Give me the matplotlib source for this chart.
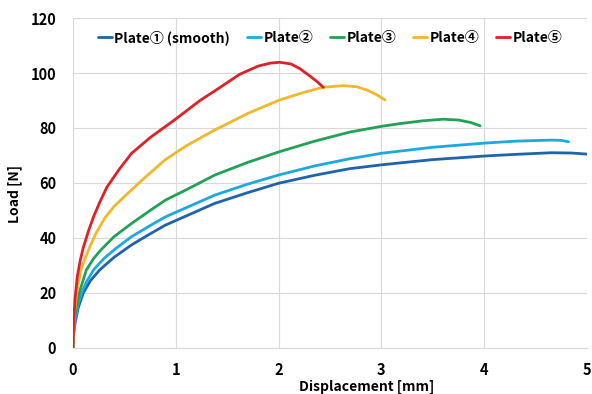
import matplotlib.pyplot as plt

plt.rcParams['font.family'] = ['Noto Sans CJK JP', 'DejaVu Sans']
plt.rcParams['font.weight'] = 'bold'

# load-displacement curves for each plate
disp1 = [0, 0.005, 0.02, 0.05, 0.1, 0.17, 0.26, 0.4, 0.57, 0.75, 0.9, 1.1, 1.38, 1.7, 2.0,
         2.35, 2.69, 3.0, 3.18, 3.5, 4.0, 4.3, 4.65, 4.85, 5.0]
load1 = [0, 5, 9, 14.5, 20, 24.5, 28.4, 33, 37.5, 41.5, 44.7, 48, 52.6, 56.5, 59.9,
         62.8, 65.2, 66.6, 67.3, 68.5, 69.8, 70.4, 71.0, 70.9, 70.5]

disp2 = [0, 0.005, 0.02, 0.05, 0.085, 0.13, 0.2, 0.3, 0.41, 0.57, 0.75, 0.9, 1.1, 1.38, 1.7, 2.0,
         2.35, 2.69, 3.0, 3.5, 4.0, 4.3, 4.65, 4.75, 4.82]
load2 = [0, 5, 10, 16, 20, 24, 28.4, 32.5, 36, 40.5, 44.5, 47.7, 51, 55.6, 59.6, 62.9,
         66.2, 68.8, 70.8, 73, 74.5, 75.2, 75.6, 75.5, 75.0]

disp3 = [0, 0.005, 0.02, 0.06, 0.13, 0.2, 0.27, 0.4, 0.57, 0.75, 0.9, 1.1, 1.38, 1.7, 2.01,
         2.35, 2.69, 3.0, 3.18, 3.4, 3.6, 3.75, 3.87, 3.96]
load3 = [0, 6, 12, 20, 28.4, 32.5, 35.6, 40.5, 45.3, 50, 53.8, 57.5, 62.9, 67.5, 71.4,
         75.2, 78.5, 80.6, 81.6, 82.6, 83.2, 82.9, 82, 80.8]

disp4 = [0, 0.005, 0.015, 0.036, 0.075, 0.15, 0.22, 0.31, 0.4, 0.52, 0.7, 0.895, 1.1, 1.38, 1.7,
         2.01, 2.25, 2.43, 2.63, 2.76, 2.86, 2.95, 3.035]
load4 = [0, 7, 13, 20, 28.4, 35.6, 41.5, 47.3, 51.5, 55.8, 62, 68.4, 73.5, 79.3, 85.3,
         90.2, 93, 94.8, 95.4, 95, 93.8, 92.2, 90.2]

disp5 = [0, 0.005, 0.02, 0.042, 0.07, 0.1, 0.15, 0.2, 0.26, 0.33, 0.45, 0.57, 0.75, 0.99, 1.235,
         1.4, 1.62, 1.8, 1.92, 2.01, 2.12, 2.21, 2.3, 2.37, 2.435]
load5 = [0, 8, 18, 26, 31.8, 36.5, 42.5, 47.7, 53, 58.5, 65, 70.8, 76.5, 83, 90,
         94, 99.5, 102.5, 103.6, 103.9, 103.3, 101.5, 99, 97, 94.8]

labels = ['Plate① (smooth)', 'Plate②', 'Plate③', 'Plate④', 'Plate⑤']
colors = ['#1f63ad', '#1ea8e0', '#21a256', '#f2b72a', '#e02027']

fig = plt.figure(figsize=(5.92, 3.94), dpi=100)
ax = fig.add_axes([0.1233, 0.1168, 0.8683, 0.8375])

series = [(disp1, load1), (disp2, load2), (disp3, load3), (disp4, load4), (disp5, load5)]
for (d, l), lab, c in zip(series, labels, colors):
    ax.plot(d, l, color=c, lw=2.0, label=lab, solid_capstyle='round', solid_joinstyle='round')

ax.set_xlim(0, 5)
ax.set_ylim(0, 120)
ax.set_xticks(range(0, 6))
ax.set_yticks(range(0, 121, 20))
ax.grid(True, color='#d9d9d9', lw=0.8)
ax.set_axisbelow(True)
for s in ['top', 'right', 'left']:
    ax.spines[s].set_visible(False)
ax.spines['bottom'].set_color('#d9d9d9')
ax.tick_params(axis='x', length=0, labelsize=10.5, pad=10)
ax.tick_params(axis='y', length=0, labelsize=10.5, pad=12)

ax.set_xlabel('Displacement [mm]', fontsize=10, fontweight='bold')
ax.xaxis.set_label_coords(0.572, -0.094)
ax.set_ylabel('Load [N]', fontsize=10, fontweight='bold')
ax.yaxis.set_label_coords(-0.099, 0.467)

ax.legend(loc='upper center', bbox_to_anchor=(0.5, 1.0), ncol=5, frameon=False,
          handlelength=1.0, handletextpad=0.2, columnspacing=1.2,
          prop={'weight': 'bold', 'size': 10})

fig.savefig('out.png', dpi=100)
